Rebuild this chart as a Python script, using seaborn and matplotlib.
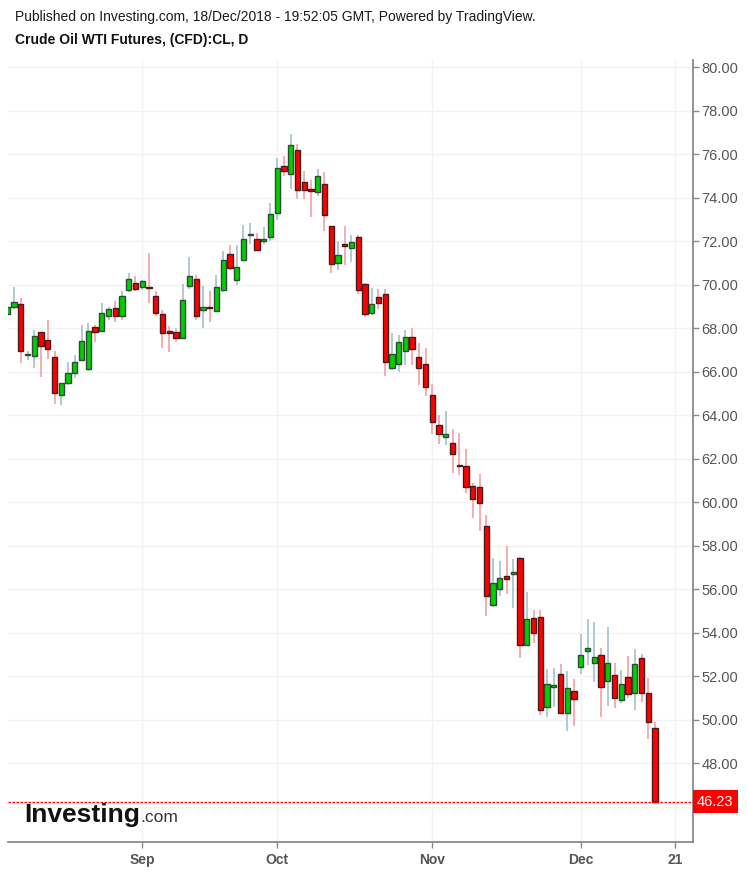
import numpy as np
import pandas as pd
import matplotlib
matplotlib.use("Agg")
import matplotlib.pyplot as plt
import seaborn as sns
from matplotlib.transforms import blended_transform_factory

# ---------------- data (WTI daily candles, 6 Aug - 18 Dec 2018) ----------------
start_date = "2018-08-06"
end_date = "2018-12-18"

opens = [68.65, 68.96, 69.13, 66.78, 66.75, 67.81, 67.45, 66.66, 64.93, 65.47,
         65.93, 66.55, 66.12, 68.07, 67.90, 68.58, 68.93, 68.55, 69.75, 70.08,
         69.91, 69.92, 69.47, 68.65, 67.90, 67.85, 67.55, 69.93, 70.28, 68.84,
         68.98, 68.82, 69.75, 71.42, 70.21, 71.13, 72.27, 72.11, 72.00, 72.19,
         73.31, 75.47, 75.11, 76.20, 74.73, 74.42, 74.27, 74.65, 72.70, 71.00,
         71.90, 71.70, 72.19, 70.04, 68.70, 69.42, 69.59, 66.17, 66.35, 66.98,
         67.58, 66.70, 66.35,
         64.93, 63.55, 63.00, 62.73, 61.72, 61.67, 60.75, 60.70, 58.93, 55.28,
         56.01, 56.63, 56.72, 57.43, 53.43, 54.66, 54.71, 50.60, 51.52, 52.10,
         50.33, 51.31,
         52.45, 53.15, 52.63, 52.97, 51.79, 52.04, 50.91, 51.99, 51.25, 52.85,
         51.25, 49.63]
highs = [69.30, 69.90, 69.40, 66.98, 67.93, 67.85, 68.39, 66.97, 65.50, 66.47,
         66.78, 68.16, 68.24, 68.15, 69.16, 69.00, 69.24, 69.70, 70.54, 70.40,
         70.24, 71.47, 69.70, 68.86, 68.10, 68.00, 70.04, 71.27, 70.45, 69.93,
         69.70, 70.47, 71.57, 71.85, 71.85, 72.77, 72.85, 72.40, 72.65, 73.77,
         75.85, 75.93, 76.92, 76.50, 75.23, 74.80, 75.31, 75.20, 72.70, 72.00,
         72.70, 72.30, 72.30, 70.10, 69.85, 69.80, 69.80, 67.78, 67.70, 67.93,
         68.00, 67.32, 67.10,
         65.42, 64.00, 64.19, 63.36, 63.20, 62.45, 60.90, 61.32, 59.40, 57.44,
         57.30, 58.01, 57.40, 57.50, 55.86, 55.06, 55.06, 52.32, 52.40, 52.58,
         52.25, 51.86,
         53.94, 54.63, 54.50, 53.30, 54.25, 52.60, 52.30, 52.94, 53.25, 53.02,
         51.90, 49.90]
lows = [68.50, 68.90, 66.39, 66.55, 66.19, 65.75, 66.60, 64.50, 64.47, 65.40,
        65.70, 66.50, 66.02, 67.39, 67.85, 68.39, 68.30, 68.39, 69.65, 69.70,
        69.78, 69.16, 68.59, 67.08, 66.93, 67.39, 67.50, 69.80, 68.39, 68.00,
        68.30, 68.75, 69.65, 70.70, 70.00, 71.10, 71.90, 71.55, 71.90, 72.00,
        73.00, 75.00, 74.39, 73.93, 73.93, 73.11, 74.08, 72.47, 70.54, 70.70,
        70.90, 71.05, 69.60, 68.50, 68.60, 68.90, 65.83, 66.10, 66.00, 66.30,
        66.30, 65.39, 64.90,
        63.16, 62.67, 62.62, 61.37, 61.25, 60.44, 59.30, 58.70, 54.79, 55.20,
        55.70, 55.80, 55.14, 52.83, 53.40, 53.55, 50.20, 50.14, 50.60, 50.30,
        49.48, 49.71,
        52.10, 52.52, 51.72, 50.14, 50.63, 50.55, 50.76, 50.98, 50.43, 50.80,
        49.10, 46.23]
closes = [68.98, 69.19, 66.98, 66.81, 67.67, 67.21, 67.04, 65.01, 65.47, 65.96,
          66.47, 67.40, 67.90, 67.85, 68.70, 68.88, 68.55, 69.51, 70.28, 69.81,
          70.16, 69.86, 68.70, 67.78, 67.78, 67.55, 69.30, 70.39, 68.59, 69.00,
          68.93, 69.88, 71.13, 70.78, 70.81, 72.11, 72.32, 71.59, 72.11, 73.27,
          75.36, 75.24, 76.43, 74.36, 74.36, 74.31, 75.00, 73.20, 70.96, 71.37,
          71.78, 71.96, 69.75, 68.65, 69.13, 69.16, 66.47, 66.81, 67.35, 67.62,
          67.04, 66.16, 65.32,
          63.70, 63.16, 63.15, 62.24, 61.67, 60.69, 60.17, 59.97, 55.68, 56.28,
          56.52, 56.48, 56.77, 53.43, 54.65, 54.01, 50.43, 51.65, 51.58, 50.33,
          51.48, 50.97,
          52.97, 53.30, 52.91, 51.53, 52.63, 51.02, 51.63, 51.20, 52.55, 51.25,
          49.90, 46.23]

last_price = 46.23
price_ticks = [46, 48, 50, 52, 54, 56, 58, 60, 62, 64, 66, 68, 70, 72, 74, 76, 78, 80]
month_tick_dates = ["2018-09-03", "2018-10-01", "2018-11-01", "2018-12-03", "2018-12-21"]
month_tick_labels = ["Sep", "Oct", "Nov", "Dec", "21"]

# ---------------- build frame ----------------
dates = pd.bdate_range(start_date, end_date)
df = pd.DataFrame({"date": dates, "open": opens, "high": highs,
                   "low": lows, "close": closes})
df["pos"] = np.busday_count(np.datetime64(start_date),
                            df["date"].values.astype("datetime64[D]"))
df["up"] = df["close"] >= df["open"]
df["bottom"] = df[["open", "close"]].min(axis=1)
df["height"] = (df["close"] - df["open"]).abs().clip(lower=0.06)
tick_pos = [np.busday_count(np.datetime64(start_date), np.datetime64(d)) for d in month_tick_dates]

# ---------------- style ----------------
sns.set_theme(style="white")
plt.rcParams["font.family"] = ["Liberation Sans", "DejaVu Sans"]

W, H = 747, 871
fig = plt.figure(figsize=(W / 100, H / 100), dpi=100)
ax_left, ax_right, ax_top, ax_bot = 7.5, 693, 60, 842
ax = fig.add_axes([ax_left / W, 1 - ax_bot / H, (ax_right - ax_left) / W, (ax_bot - ax_top) / H])

GREEN, RED = "#00d000", "#ff0000"
GREEN_WICK, RED_WICK = "#a9c6cf", "#f5a6ad"
up = df[df["up"]]
dn = df[~df["up"]]

ax.vlines(up["pos"], up["low"], up["high"], color=GREEN_WICK, lw=1.3, zorder=2)
ax.vlines(dn["pos"], dn["low"], dn["high"], color=RED_WICK, lw=1.3, zorder=2)
ax.bar(up["pos"], up["height"], bottom=up["bottom"], width=0.78, color=GREEN,
       edgecolor="#2f4a35", linewidth=1.0, zorder=3)
ax.bar(dn["pos"], dn["height"], bottom=dn["bottom"], width=0.78, color=RED,
       edgecolor="#4a1a1a", linewidth=1.0, zorder=3)

# last price line
ax.axhline(last_price, color="#ff0000", lw=0.9, ls=(0, (2, 1.2)), zorder=4)

ax.set_xlim(0.03, 101.63)
ax.set_ylim(44.38, 80.34)

ax.set_axisbelow(True)
ax.grid(True, color="#f2f2f2", lw=1.0)

ax.set_xticks(tick_pos)
ax.set_xticklabels(month_tick_labels)
ax.set_yticks(price_ticks)
ax.set_yticklabels(["" if p == 46 else f"{p:.2f}" for p in price_ticks])
ax.yaxis.tick_right()
ax.tick_params(axis="y", length=4, width=1, color="#8a8a8a", labelsize=10.5,
               labelcolor="#555555", pad=2, left=False, right=True)
ax.tick_params(axis="x", length=4, width=1, color="#8a8a8a", labelsize=10,
               labelcolor="#555555", pad=4, bottom=True)
for lab in ax.get_xticklabels():
    lab.set_fontweight("bold")

for s in ["left", "top"]:
    ax.spines[s].set_visible(False)
for s in ["right", "bottom"]:
    ax.spines[s].set_color("#8a8a8a")
    ax.spines[s].set_linewidth(1.3)

# last price label box
trans = blended_transform_factory(ax.transAxes, ax.transData)
ax.text(1.006, last_price, "46.23", transform=trans, ha="left", va="center",
        fontsize=10.5, color="white", clip_on=False, zorder=6,
        bbox=dict(boxstyle="square,pad=0.3", fc="#ff0000", ec="none"))

# header texts
fig.text(15 / W, 1 - 17 / H, "Published on Investing.com, 18/Dec/2018 - 19:52:05 GMT, Powered by TradingView.",
         fontsize=10, color="#1a1a1a", va="center", ha="left")
fig.text(15 / W, 1 - 40 / H, "Crude Oil WTI Futures, (CFD):CL, D",
         fontsize=10, fontweight="bold", color="#111111", va="center", ha="left")

# logo
logo = fig.text(24 / W, 1 - 822 / H, "Investing", fontsize=19, fontweight="bold",
                color="#111111", va="baseline", ha="left")
fig.canvas.draw()
bb = logo.get_window_extent()
fig.text((bb.x1 + 1) / W, 1 - 822 / H, ".com", fontsize=12.5, color="#333333",
         va="baseline", ha="left")

fig.savefig("out.png", dpi=100)
